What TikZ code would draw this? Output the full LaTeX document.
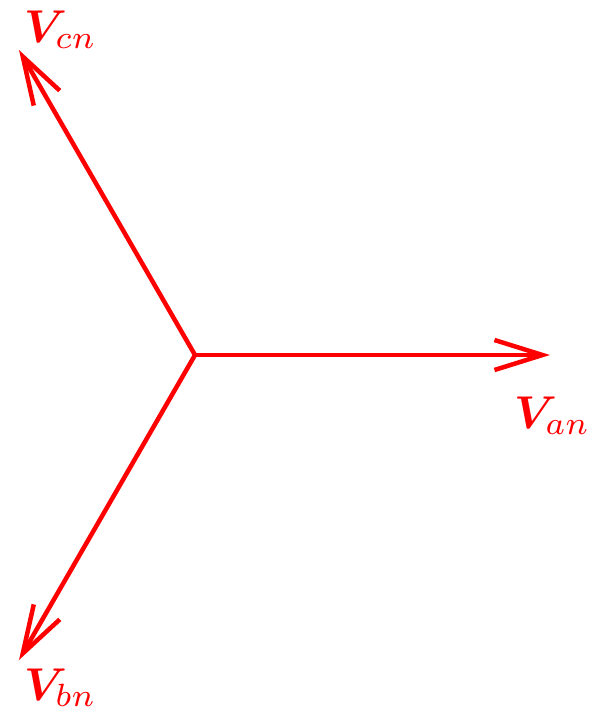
\documentclass[tikz,border=0pt]{standalone}
\usepackage{graphicx}
\usepackage{amsmath,bm}
\usetikzlibrary{arrows.meta}
\definecolor{vred}{RGB}{255,0,0}
\newcommand{\biglab}[1]{\scalebox{4.6}{$#1$}}
\begin{document}
\begin{tikzpicture}[x=1pt,y=-1pt,
  phasor/.style={draw=vred,line width=4.5pt,
    -{Straight Barb[length=48pt,width=30pt,line width=4.5pt]}},
  vlabel/.style={text=vred,inner sep=0pt,anchor=base west}]
\useasboundingbox (0,0) rectangle (598,720);
\coordinate (O) at (195,355);
\coordinate (A) at (550,355);
\coordinate (C) at (19,50);
\coordinate (B) at (19,660);
\draw[phasor] (O) -- (A);
\draw[phasor] (O) -- (C);
\draw[phasor] (O) -- (B);
\node[vlabel] (la) at (514,428) {\biglab{\bm{V}_{an}}};
\node[vlabel] (lc) at (24,42) {\biglab{\bm{V}_{cn}}};
\node[vlabel] (lb) at (24,700) {\biglab{\bm{V}_{bn}}};
\end{tikzpicture}
\end{document}
